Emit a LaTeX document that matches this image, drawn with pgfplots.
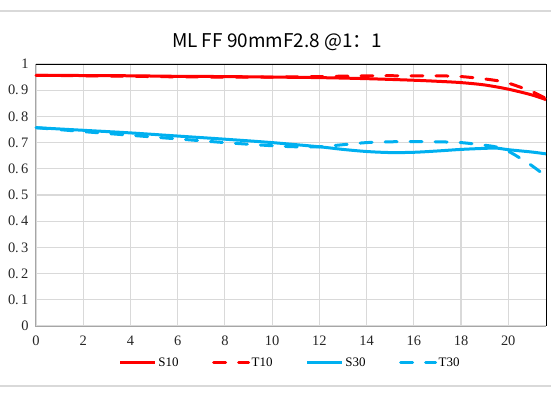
\documentclass[border=0pt]{standalone}
\usepackage{pgfplots}
\pgfplotsset{compat=1.18}
\usepackage{fontspec}
\setmainfont{Liberation Serif}
\newfontfamily\cjk{Noto Sans CJK SC}
\definecolor{mred}{HTML}{FF0000}
\definecolor{mblue}{HTML}{00B0F0}
\definecolor{gridc}{HTML}{D9D9D9}
\definecolor{axc}{HTML}{A6A6A6}
\begin{document}
\begin{tikzpicture}
\useasboundingbox (0,0) rectangle (551bp,398bp);
\draw[gridc, line width=1.5bp] (0,387bp) -- (551bp,387bp);
\draw[gridc, line width=1.5bp] (0,12bp) -- (551bp,12bp);
\node[font=\cjk\fontsize{19}{22}\selectfont] at (277bp,356bp) {ML FF 90mmF2.8 @1：1};
\begin{axis}[
  at={(36bp,72bp)}, anchor=south west,
  scale only axis, width=510bp, height=262bp,
  xmin=0, xmax=21.6, ymin=0, ymax=1,
  xtick={0,2,...,20},
  ytick={0,0.1,...,1.0},
  yticklabels={0,0.\,1,0.\,2,0.\,3,0.\,4,0.\,5,0.\,6,0.\,7,0.\,8,0.\,9,1},
  xticklabels={0,2,4,6,8,10,12,14,16,18,20},
  major tick length=0pt,
  grid=major,
  major grid style={gridc, line width=1.1bp},
  axis line style={draw=none},
  tick label style={font=\fontsize{14.5}{16}\selectfont, text=black!85},
  xticklabel style={yshift=-6bp},
  yticklabel style={xshift=-4bp},
  legend columns=4,
  legend style={at={(0.498,-0.141)}, anchor=center, draw=none, fill=none,
    font=\fontsize{13}{15}\selectfont, inner sep=0pt,
    nodes={inner sep=1.5bp},
    /tikz/every even column/.append style={column sep=32bp}},
  legend image code/.code={\draw[#1] (0bp,0bp) -- (35bp,0bp);},
  clip=false,
]
\draw[axc, line width=1bp] (rel axis cs:0,1) -- (rel axis cs:0,0) -- (rel axis cs:1,0);
\draw[black, line width=0.8bp] (rel axis cs:0,1) -- (rel axis cs:1,1) -- (rel axis cs:1,0);
\addplot[mred, line width=3bp, smooth] coordinates {
 (0,0.957) (2,0.956) (4,0.955) (6,0.953) (8,0.952) (10,0.950) (12,0.948) (14,0.944)
 (16,0.938) (17,0.934) (18,0.929) (19,0.920) (20,0.904) (21,0.882) (21.6,0.864)};
\addlegendentry{S10}
\addplot[mred, line width=3bp, smooth, line cap=round, dash pattern=on 12bp off 13bp] coordinates {
 (0,0.957) (2,0.955) (4,0.953) (6,0.951) (8,0.950) (10,0.950) (12,0.952) (14,0.955)
 (16,0.955) (17,0.955) (18,0.952) (19,0.943) (19.8,0.932) (20.5,0.912) (21,0.895) (21.6,0.868)};
\addlegendentry{T10}
\addplot[mblue, line width=3bp, smooth] coordinates {
 (0,0.757) (2,0.747) (4,0.737) (6,0.725) (8,0.713) (10,0.700) (12,0.684) (13,0.674)
 (14,0.666) (15,0.662) (16,0.663) (17,0.668) (18,0.674) (19,0.678) (19.5,0.679)
 (20,0.673) (21,0.664) (21.6,0.657)};
\addlegendentry{S30}
\addplot[mblue, line width=3bp, smooth, line cap=round, dash pattern=on 12bp off 13bp] coordinates {
 (0,0.757) (2,0.742) (4,0.728) (6,0.714) (8,0.700) (10,0.688) (11,0.684) (12,0.684)
 (13,0.692) (14,0.700) (15,0.703) (16,0.704) (17,0.703) (18,0.700) (19,0.690)
 (19.5,0.683) (20,0.667) (20.5,0.641) (21,0.612) (21.6,0.572)};
\addlegendentry{T30}
\end{axis}
\end{tikzpicture}
\end{document}
